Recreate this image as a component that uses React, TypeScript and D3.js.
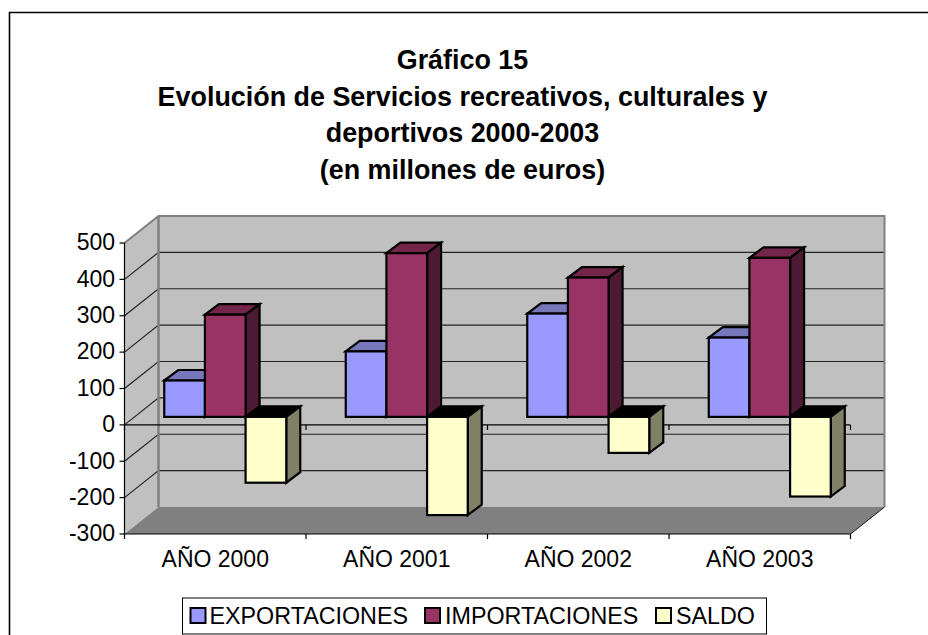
import React from "react";
import * as d3 from "d3";

const categories = ["AÑO 2000", "AÑO 2001", "AÑO 2002", "AÑO 2003"];
const seriesNames = ["EXPORTACIONES", "IMPORTACIONES", "SALDO"];
const exportaciones = [100, 180, 284, 218];
const importaciones = [281, 450, 383, 437];
const saldo = [-181, -270, -99, -219];
const yTicks = [500, 400, 300, 200, 100, 0, -100, -200, -300];
const titleLines = [
  "Gráfico 15",
  "Evolución de Servicios recreativos, culturales y",
  "deportivos 2000-2003",
  "(en millones de euros)",
];
const front = ["#9999FF", "#993366", "#FFFFCC"];
const topFace = ["#7777BB", "#732649", "#000000"];
const sideFace = ["#4D4D80", "#4D1A33", "#808066"];

const W = 928, H = 635;
const x0 = 124.5, x1 = 850.5;
const yScale = d3.scaleLinear().domain([-300, 500]).range([534, 243]);
const xCat = d3.scaleBand<string>().domain(categories).range([x0, x1]);
const xSeries = d3.scaleBand<string>().domain(seriesNames).range([0, 122]);
const backDx = 34, backDy = -27;
const barDx = 10, barDy = -8;
const depthDx = 14, depthDy = -10.5;
const FONT = "'Liberation Sans', Arial, sans-serif";

function pts(p: number[][]) {
  return p.map((a) => a.join(",")).join(" ");
}

export default function App() {
  const allSeries = [exportaciones, importaciones, saldo];
  const zero = yScale(0);
  const bars: React.ReactNode[] = [];
  categories.forEach((c, ci) => {
    const gap = (xCat.bandwidth() - xSeries.range()[1]) / 2;
    seriesNames.forEach((s, si) => {
      const v = allSeries[si][ci];
      const xl = (xCat(c) as number) + gap + (xSeries(s) as number) + barDx;
      const xr = xl + xSeries.bandwidth();
      const a = yScale(Math.max(v, 0)) + barDy;
      const b = yScale(Math.min(v, 0)) + barDy;
      bars.push(
        <g key={c + s} stroke="#000" strokeWidth={2.2} strokeLinejoin="miter">
          <polygon fill={topFace[si]} points={pts([[xl, a], [xl + depthDx, a + depthDy], [xr + depthDx, a + depthDy], [xr, a]])} />
          <polygon fill={sideFace[si]} points={pts([[xr, a], [xr + depthDx, a + depthDy], [xr + depthDx, b + depthDy], [xr, b]])} />
          <rect x={xl} y={a} width={xr - xl} height={b - a} fill={front[si]} />
        </g>
      );
    });
  });
  const catEdges = [...categories.map((c) => xCat(c) as number), x1];
  const legendItems = [
    { x: 190.5, tx: 209.5 },
    { x: 425, tx: 445 },
    { x: 656, tx: 676 },
  ];
  return (
    <svg width={W} height={H} viewBox={`0 0 ${W} ${H}`} style={{ position: "absolute", left: 0, top: 0, background: "#fff" }} fontFamily={FONT}>
      <path d={`M9.5 ${H} V12.5 H${W}`} fill="none" stroke="#000" strokeWidth={1.6} />
      <g textAnchor="middle" fontWeight="bold" fontSize={26.9} fill="#000">
        {titleLines.map((t, i) => (
          <text key={i} x={462.5} y={69 + i * 36.5}>{t}</text>
        ))}
      </g>
      {/* walls */}
      <polygon fill="#C0C0C0" points={pts([[x0, yScale(500)], [x0 + backDx, yScale(500) + backDy], [x0 + backDx, yScale(-300) + backDy], [x0, yScale(-300)]])} />
      <rect x={x0 + backDx} y={yScale(500) + backDy} width={x1 - x0} height={yScale(-300) - yScale(500)} fill="#C0C0C0" />
      {yTicks.filter((t) => t !== 500 && t !== -300).map((t) => (
        <path key={t} d={`M${x0} ${yScale(t)} L${x0 + backDx} ${yScale(t) + backDy} H${x1 + backDx}`} fill="none" stroke="#222" strokeWidth={1.2} />
      ))}
      <path d={`M${x0} ${yScale(500)} L${x0 + backDx} ${yScale(500) + backDy} H${x1 + backDx} V${yScale(-300) + backDy}`} fill="none" stroke="#808080" strokeWidth={2} />
      <path d={`M${x0 + backDx} ${yScale(500) + backDy} V${yScale(-300) + backDy}`} fill="none" stroke="#808080" strokeWidth={2.5} />
      <polygon fill="#808080" points={pts([[x0, yScale(-300)], [x0 + backDx, yScale(-300) + backDy], [x1 + backDx, yScale(-300) + backDy], [x1, yScale(-300)]])} />
      <path d={`M${x1} ${yScale(-300)} L${x1 + backDx} ${yScale(-300) + backDy}`} stroke="#111" strokeWidth={1} />
      {/* axes */}
      <g stroke="#000" strokeWidth={1.2} fill="none">
        <path d={`M${x0} ${yScale(500)} V${yScale(-300)} H${x1}`} />
        <path d={`M${x0} ${zero} H${x1}`} />
        {catEdges.map((x) => (
          <path key={x} d={`M${x} ${zero} v5 M${x} ${yScale(-300)} v5`} />
        ))}
        {yTicks.map((t) => (
          <path key={t} d={`M${x0 - 5} ${yScale(t)} H${x0}`} />
        ))}
      </g>
      {bars}
      <g fontSize={23} fill="#000">
        {yTicks.map((t) => (
          <text key={t} x={115} y={yScale(t) + 7.3} textAnchor="end">{t}</text>
        ))}
        {categories.map((c) => (
          <text key={c} x={(xCat(c) as number) + xCat.bandwidth() / 2} y={566.5} textAnchor="middle">{c}</text>
        ))}
      </g>
      {/* legend */}
      <rect x={182.5} y={598} width={584} height={36} fill="#fff" stroke="#000" strokeWidth={1} />
      {seriesNames.map((s, i) => (
        <g key={s}>
          <rect x={legendItems[i].x} y={608} width={15} height={15} fill={front[i]} stroke="#000" strokeWidth={2} />
          <text x={legendItems[i].tx} y={624} fontSize={23.3} fill="#000">{s}</text>
        </g>
      ))}
    </svg>
  );
}
